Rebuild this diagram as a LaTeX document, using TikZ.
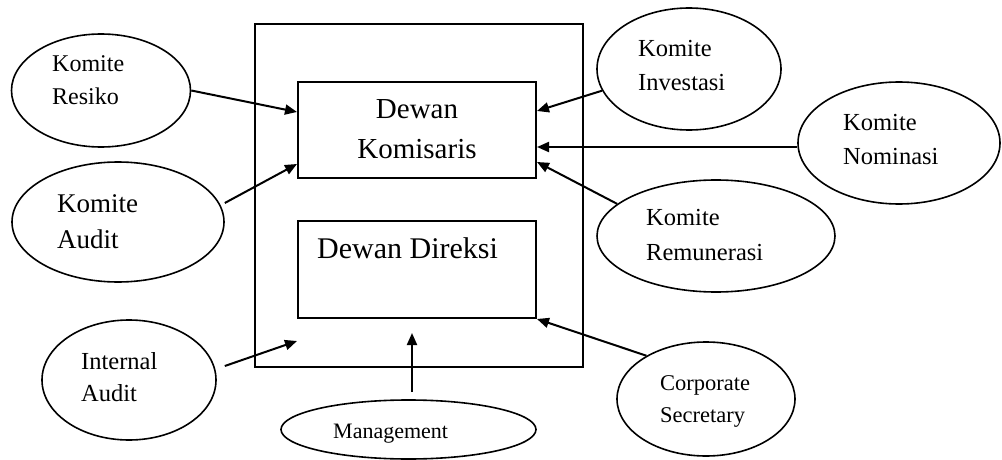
\documentclass[tikz,border=0pt]{standalone}
\usepackage{fontspec}
\setmainfont{Liberation Serif}
\usetikzlibrary{shapes.geometric,arrows.meta,calc}
\begin{document}
\begin{tikzpicture}[x=1pt,y=-1pt,
  oval/.style={draw, ellipse, line width=1.6pt, inner sep=0},
  box/.style={draw, line width=2pt, inner sep=0},
  arr/.style={line width=2pt, -{Triangle[length=12pt,width=10pt]}},
  lbl/.style={anchor=base west, inner sep=0},
  ctr/.style={anchor=base, inner sep=0},
  fs/.style={font=\fontsize{#1}{#1}\selectfont}
]
\useasboundingbox (0,0) rectangle (1002,460);

% boxes
\node[box, minimum width=328pt, minimum height=343pt] (outer) at (419,195.5) {};
\node[box, minimum width=238pt, minimum height=96pt] (kom) at (417,130) {};
\node[box, minimum width=238pt, minimum height=97pt] (dir) at (417,269.5) {};

\node[ctr, fs=29] (kom1) at (417,118) {Dewan};
\node[ctr, fs=29] (kom2) at (417,158) {Komisaris};
\node[lbl, fs=30] (dir1) at (317,258) {Dewan Direksi};

% ellipses
\node[oval, minimum width=179pt, minimum height=113pt] (res) at (101,90.5) {};
\node[oval, minimum width=212pt, minimum height=120pt] (aud) at (118,222) {};
\node[oval, minimum width=184pt, minimum height=122pt] (inv) at (689,69) {};
\node[oval, minimum width=202pt, minimum height=122pt] (nom) at (899,143) {};
\node[oval, minimum width=238pt, minimum height=112pt] (rem) at (716,236) {};
\node[oval, minimum width=174pt, minimum height=120pt] (ia) at (129,380) {};
\node[oval, minimum width=255pt, minimum height=59pt] (mg) at (408.5,429.5) {};
\node[oval, minimum width=178pt, minimum height=114pt] (cs) at (706,399) {};

% labels
\node[lbl, fs=24] (res1) at (52,72) {Komite};
\node[lbl, fs=24] (res2) at (52,105) {Resiko};
\node[lbl, fs=27] (aud1) at (57,212) {Komite};
\node[lbl, fs=27] (aud2) at (57,248) {Audit};
\node[lbl, fs=24.5] (inv1) at (638,57) {Komite};
\node[lbl, fs=24.5] (inv2) at (638,91) {Investasi};
\node[lbl, fs=24.5] (nom1) at (843,130) {Komite};
\node[lbl, fs=24.5] (nom2) at (843,164) {Nominasi};
\node[lbl, fs=24.5] (rem1) at (646,225) {Komite};
\node[lbl, fs=24.5] (rem2) at (646,260) {Remunerasi};
\node[lbl, fs=24.5] (ia1) at (81,369) {Internal};
\node[lbl, fs=24.5] (ia2) at (81,401) {Audit};
\node[lbl, fs=22.5] (cs1) at (660,390) {Corporate};
\node[lbl, fs=22.5] (cs2) at (660,422) {Secretary};
\node[lbl, fs=22] (mg1) at (333,438) {Management};

% connectors
\draw[arr] (res.east) -- ([yshift=-31pt]kom.north west);
\draw[arr] ([yshift=19pt]aud.east) -- ([yshift=-83pt]kom.north west);
\draw[arr] (inv.194) -- ([yshift=-30pt]kom.north east);
\draw[arr] ([yshift=-4pt]nom.west) -- ([yshift=-4pt]nom.west -| kom.east);
\draw[arr] (rem.162) -- ([yshift=-81pt]kom.north east);
\coordinate (iaend) at ([yshift=-22pt]dir.south west);
\draw[arr] ($(ia.east)+(8,-14)$) -- (iaend);
\coordinate (mgstart) at ($(mg.north)+(3.5,-7)$);
\coordinate (mgend) at ([yshift=-14pt]dir.south);
\draw[arr] (mgstart) -- (mgstart |- mgend);
\draw[arr] (cs.144) -- (dir.south east);
\end{tikzpicture}
\end{document}
